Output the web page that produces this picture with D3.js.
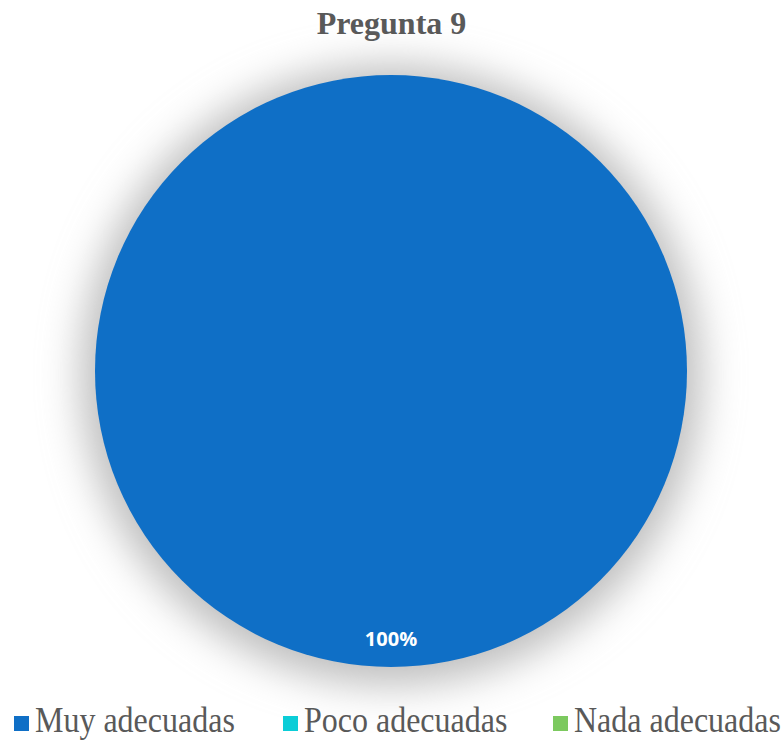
<!DOCTYPE html>
<html>
<head>
<meta charset="utf-8">
<script src="https://cdn.jsdelivr.net/npm/d3@7"></script>
<style>
  body { margin: 0; background: #fff; }
  svg { display: block; }
</style>
</head>
<body>
<svg width="783" height="740"></svg>
<script>
// data
const categories = ["Muy adecuadas", "Poco adecuadas", "Nada adecuadas"]
const values = [100, 0, 0]
const colors = ["#0F6FC6", "#0BCDD7", "#7CC95F"]
const title = "Pregunta 9"

const svg = d3.select('svg')
const width = +svg.attr('width')
const cx = 391, cy = 371, radius = 296

// soft shadow round the pie
const defs = svg.append('defs')
const blur = defs.append('filter')
    .attr('id', 'shadow')
    .attr('x', '-30%').attr('y', '-30%')
    .attr('width', '160%').attr('height', '160%')
blur.append('feGaussianBlur').attr('stdDeviation', 20)

svg.append('circle')
    .attr('cx', cx)
    .attr('cy', cy + 4)
    .attr('r', radius + 14)
    .attr('fill', '#bdbdbd')
    .attr('filter', 'url(#shadow)')

// title
svg.append('text')
    .attr('x', width / 2)
    .attr('y', 34)
    .attr('text-anchor', 'middle')
    .style('font-family', '"Liberation Serif", "Times New Roman", serif')
    .style('font-weight', 'bold')
    .style('font-size', '32px')
    .attr('fill', '#595959')
    .text(title)

const data = categories.map((c, i) => ({ name: c, value: values[i] }))

const color = d3.scaleOrdinal()
    .domain(categories)
    .range(colors)

const pie = d3.pie()
    .value(d => d.value)
    .sort(null)

const arc = d3.arc().innerRadius(0).outerRadius(radius)
const labelArc = d3.arc().innerRadius(radius * 0.905).outerRadius(radius * 0.905)

const total = d3.sum(values)

const g = svg.append('g')
    .attr('transform', `translate(${cx}, ${cy})`)

const slices = pie(data).filter(d => d.data.value > 0)

g.selectAll('path')
    .data(slices)
    .join('path')
      .attr('d', arc)
      .attr('fill', d => color(d.data.name))

g.selectAll('text.lbl')
    .data(slices)
    .join('text')
      .attr('class', 'lbl')
      .attr('transform', d => `translate(${labelArc.centroid(d)})`)
      .attr('text-anchor', 'middle')
      .attr('dy', '0.35em')
      .style('font-family', '"Open Sans", sans-serif')
      .style('font-weight', 'bold')
      .style('font-size', '20px')
      .attr('fill', '#ffffff')
      .text(d => Math.round(d.data.value / total * 100) + '%')

// legend
const legendX = [14, 283, 553]
const legend = svg.selectAll('.legend')
    .data(categories)
    .join('g')
      .attr('class', 'legend')
      .attr('transform', (d, i) => `translate(${legendX[i]}, 0)`)

legend.append('rect')
    .attr('x', 0)
    .attr('y', 716)
    .attr('width', 15)
    .attr('height', 15)
    .attr('fill', d => color(d))

legend.append('text')
    .attr('transform', 'translate(21, 732) scale(1, 1.1)')
    .style('font-family', '"Liberation Serif", "Times New Roman", serif')
    .style('font-size', '32px')
    .attr('fill', '#595959')
    .text(d => d)
</script>
</body>
</html>
